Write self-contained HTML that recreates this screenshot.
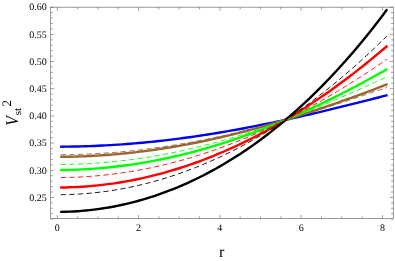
<!DOCTYPE html>
<html><head><meta charset="utf-8"><style>
html,body{margin:0;padding:0;background:#fff;}
svg{display:block;will-change:transform;opacity:0.999}
text{font-family:"Liberation Serif",serif;fill:#000;text-rendering:geometricPrecision}
</style></head><body>
<svg width="395" height="261" viewBox="0 0 395 261">
<rect width="395" height="261" fill="#fff"/>
<g>
<path d="M61.36 146.67 L65.43 146.64 L69.49 146.60 L73.56 146.53 L77.62 146.45 L81.68 146.35 L85.75 146.23 L89.81 146.09 L93.88 145.94 L97.94 145.76 L102.00 145.57 L106.07 145.36 L110.13 145.14 L114.20 144.89 L118.26 144.63 L122.32 144.35 L126.39 144.05 L130.45 143.73 L134.52 143.40 L138.58 143.05 L142.64 142.68 L146.71 142.29 L150.77 141.89 L154.84 141.47 L158.90 141.03 L162.96 140.58 L167.03 140.11 L171.09 139.62 L175.16 139.12 L179.22 138.60 L183.28 138.06 L187.35 137.51 L191.41 136.94 L195.48 136.36 L199.54 135.76 L203.60 135.15 L207.67 134.52 L211.73 133.87 L215.80 133.21 L219.86 132.54 L223.92 131.85 L227.99 131.15 L232.05 130.44 L236.12 129.71 L240.18 128.96 L244.24 128.21 L248.31 127.44 L252.37 126.65 L256.44 125.86 L260.50 125.05 L264.56 124.23 L268.63 123.40 L272.69 122.55 L276.76 121.70 L280.82 120.83 L284.88 119.96 L288.95 119.07 L293.01 118.17 L297.08 117.26 L301.14 116.35 L305.20 115.42 L309.27 114.48 L313.33 113.54 L317.40 112.58 L321.46 111.62 L325.52 110.65 L329.59 109.67 L333.65 108.69 L337.72 107.70 L341.78 106.70 L345.84 105.69 L349.91 104.68 L353.97 103.66 L358.04 102.64 L362.10 101.62 L366.16 100.59 L370.23 99.55 L374.29 98.51 L378.36 97.47 L382.42 96.42 L386.48 95.38" stroke="#0000f0" stroke-width="2.4" stroke-linecap="square" fill="none"/>
<path d="M61.36 156.81 L65.43 156.77 L69.49 156.71 L73.56 156.62 L77.62 156.51 L81.68 156.37 L85.75 156.21 L89.81 156.03 L93.88 155.82 L97.94 155.58 L102.00 155.32 L106.07 155.04 L110.13 154.73 L114.20 154.40 L118.26 154.04 L122.32 153.66 L126.39 153.25 L130.45 152.82 L134.52 152.37 L138.58 151.89 L142.64 151.39 L146.71 150.87 L150.77 150.32 L154.84 149.75 L158.90 149.15 L162.96 148.53 L167.03 147.89 L171.09 147.23 L175.16 146.54 L179.22 145.83 L183.28 145.10 L187.35 144.34 L191.41 143.57 L195.48 142.77 L199.54 141.95 L203.60 141.11 L207.67 140.24 L211.73 139.36 L215.80 138.45 L219.86 137.52 L223.92 136.58 L227.99 135.61 L232.05 134.62 L236.12 133.61 L240.18 132.58 L244.24 131.53 L248.31 130.47 L252.37 129.38 L256.44 128.27 L260.50 127.15 L264.56 126.01 L268.63 124.85 L272.69 123.67 L276.76 122.47 L280.82 121.26 L284.88 120.03 L288.95 118.78 L293.01 117.52 L297.08 116.24 L301.14 114.94 L305.20 113.63 L309.27 112.30 L313.33 110.96 L317.40 109.60 L321.46 108.23 L325.52 106.85 L329.59 105.45 L333.65 104.04 L337.72 102.61 L341.78 101.18 L345.84 99.73 L349.91 98.27 L353.97 96.79 L358.04 95.31 L362.10 93.81 L366.16 92.31 L370.23 90.79 L374.29 89.27 L378.36 87.73 L382.42 86.19 L386.48 84.64" stroke="#996633" stroke-width="2.4" stroke-linecap="square" fill="none"/>
<path d="M61.36 169.98 L65.43 169.93 L69.49 169.85 L73.56 169.73 L77.62 169.59 L81.68 169.41 L85.75 169.19 L89.81 168.95 L93.88 168.67 L97.94 168.35 L102.00 168.01 L106.07 167.63 L110.13 167.22 L114.20 166.78 L118.26 166.31 L122.32 165.80 L126.39 165.26 L130.45 164.69 L134.52 164.08 L138.58 163.45 L142.64 162.78 L146.71 162.08 L150.77 161.35 L154.84 160.58 L158.90 159.79 L162.96 158.96 L167.03 158.10 L171.09 157.21 L175.16 156.29 L179.22 155.34 L183.28 154.36 L187.35 153.34 L191.41 152.30 L195.48 151.22 L199.54 150.11 L203.60 148.98 L207.67 147.81 L211.73 146.61 L215.80 145.39 L219.86 144.13 L223.92 142.84 L227.99 141.53 L232.05 140.18 L236.12 138.81 L240.18 137.41 L244.24 135.98 L248.31 134.52 L252.37 133.03 L256.44 131.51 L260.50 129.97 L264.56 128.39 L268.63 126.79 L272.69 125.17 L276.76 123.51 L280.82 121.83 L284.88 120.12 L288.95 118.39 L293.01 116.63 L297.08 114.84 L301.14 113.03 L305.20 111.19 L309.27 109.33 L313.33 107.44 L317.40 105.53 L321.46 103.59 L325.52 101.63 L329.59 99.65 L333.65 97.64 L337.72 95.61 L341.78 93.55 L345.84 91.48 L349.91 89.38 L353.97 87.25 L358.04 85.11 L362.10 82.94 L366.16 80.75 L370.23 78.55 L374.29 76.32 L378.36 74.07 L382.42 71.80 L386.48 69.51" stroke="#00ff00" stroke-width="2.4" stroke-linecap="square" fill="none"/>
<path d="M61.36 187.49 L65.43 187.43 L69.49 187.32 L73.56 187.17 L77.62 186.98 L81.68 186.74 L85.75 186.46 L89.81 186.14 L93.88 185.78 L97.94 185.37 L102.00 184.92 L106.07 184.43 L110.13 183.90 L114.20 183.32 L118.26 182.70 L122.32 182.03 L126.39 181.33 L130.45 180.58 L134.52 179.78 L138.58 178.95 L142.64 178.07 L146.71 177.15 L150.77 176.19 L154.84 175.18 L158.90 174.13 L162.96 173.04 L167.03 171.90 L171.09 170.72 L175.16 169.50 L179.22 168.24 L183.28 166.93 L187.35 165.58 L191.41 164.19 L195.48 162.75 L199.54 161.27 L203.60 159.75 L207.67 158.19 L211.73 156.58 L215.80 154.93 L219.86 153.23 L223.92 151.50 L227.99 149.72 L232.05 147.89 L236.12 146.03 L240.18 144.12 L244.24 142.16 L248.31 140.17 L252.37 138.13 L256.44 136.05 L260.50 133.92 L264.56 131.75 L268.63 129.54 L272.69 127.29 L276.76 124.99 L280.82 122.65 L284.88 120.26 L288.95 117.83 L293.01 115.36 L297.08 112.85 L301.14 110.29 L305.20 107.69 L309.27 105.04 L313.33 102.35 L317.40 99.62 L321.46 96.85 L325.52 94.03 L329.59 91.17 L333.65 88.26 L337.72 85.31 L341.78 82.32 L345.84 79.28 L349.91 76.20 L353.97 73.08 L358.04 69.91 L362.10 66.70 L366.16 63.45 L370.23 60.15 L374.29 56.80 L378.36 53.42 L382.42 49.99 L386.48 46.52" stroke="#ff0000" stroke-width="2.4" stroke-linecap="square" fill="none"/>
<path d="M61.36 211.89 L65.43 211.81 L69.49 211.67 L73.56 211.47 L77.62 211.22 L81.68 210.92 L85.75 210.56 L89.81 210.14 L93.88 209.67 L97.94 209.14 L102.00 208.56 L106.07 207.91 L110.13 207.22 L114.20 206.47 L118.26 205.66 L122.32 204.79 L126.39 203.87 L130.45 202.89 L134.52 201.85 L138.58 200.75 L142.64 199.60 L146.71 198.39 L150.77 197.12 L154.84 195.80 L158.90 194.41 L162.96 192.97 L167.03 191.46 L171.09 189.90 L175.16 188.28 L179.22 186.59 L183.28 184.85 L187.35 183.05 L191.41 181.18 L195.48 179.26 L199.54 177.27 L203.60 175.22 L207.67 173.10 L211.73 170.93 L215.80 168.69 L219.86 166.39 L223.92 164.02 L227.99 161.59 L232.05 159.09 L236.12 156.53 L240.18 153.90 L244.24 151.20 L248.31 148.44 L252.37 145.61 L256.44 142.71 L260.50 139.74 L264.56 136.71 L268.63 133.60 L272.69 130.42 L276.76 127.18 L280.82 123.86 L284.88 120.47 L288.95 117.00 L293.01 113.47 L297.08 109.86 L301.14 106.17 L305.20 102.41 L309.27 98.57 L313.33 94.66 L317.40 90.67 L321.46 86.60 L325.52 82.45 L329.59 78.23 L333.65 73.92 L337.72 69.53 L341.78 65.06 L345.84 60.51 L349.91 55.88 L353.97 51.16 L358.04 46.36 L362.10 41.47 L366.16 36.49 L370.23 31.43 L374.29 26.28 L378.36 21.04 L382.42 15.71 L386.48 10.29" stroke="#000000" stroke-width="2.4" stroke-linecap="square" fill="none"/>
<path d="M61.36 154.69 L65.43 154.66 L69.49 154.60 L73.56 154.52 L77.62 154.41 L81.68 154.28 L85.75 154.13 L89.81 153.95 L93.88 153.75 L97.94 153.52 L102.00 153.28 L106.07 153.01 L110.13 152.71 L114.20 152.40 L118.26 152.06 L122.32 151.70 L126.39 151.31 L130.45 150.90 L134.52 150.47 L138.58 150.02 L142.64 149.54 L146.71 149.04 L150.77 148.52 L154.84 147.98 L158.90 147.41 L162.96 146.83 L167.03 146.22 L171.09 145.59 L175.16 144.94 L179.22 144.26 L183.28 143.57 L187.35 142.86 L191.41 142.12 L195.48 141.37 L199.54 140.59 L203.60 139.79 L207.67 138.98 L211.73 138.14 L215.80 137.29 L219.86 136.41 L223.92 135.52 L227.99 134.61 L232.05 133.68 L236.12 132.73 L240.18 131.76 L244.24 130.78 L248.31 129.78 L252.37 128.76 L256.44 127.72 L260.50 126.67 L264.56 125.60 L268.63 124.51 L272.69 123.41 L276.76 122.29 L280.82 121.16 L284.88 120.01 L288.95 118.85 L293.01 117.67 L297.08 116.48 L301.14 115.28 L305.20 114.06 L309.27 112.83 L313.33 111.59 L317.40 110.33 L321.46 109.07 L325.52 107.79 L329.59 106.50 L333.65 105.20 L337.72 103.89 L341.78 102.57 L345.84 101.24 L349.91 99.90 L353.97 98.55 L358.04 97.20 L362.10 95.84 L366.16 94.46 L370.23 93.09 L374.29 91.70 L378.36 90.31 L382.42 88.91 L386.48 87.51" stroke="#996633" stroke-width="0.9" stroke-linecap="square" stroke-dasharray="4.27 4.27" fill="none"/>
<path d="M61.36 164.50 L65.43 164.46 L69.49 164.39 L73.56 164.28 L77.62 164.15 L81.68 163.98 L85.75 163.79 L89.81 163.57 L93.88 163.31 L97.94 163.03 L102.00 162.72 L106.07 162.38 L110.13 162.01 L114.20 161.61 L118.26 161.18 L122.32 160.72 L126.39 160.23 L130.45 159.71 L134.52 159.17 L138.58 158.59 L142.64 157.99 L146.71 157.36 L150.77 156.70 L154.84 156.01 L158.90 155.29 L162.96 154.55 L167.03 153.77 L171.09 152.97 L175.16 152.14 L179.22 151.29 L183.28 150.41 L187.35 149.50 L191.41 148.56 L195.48 147.60 L199.54 146.60 L203.60 145.59 L207.67 144.55 L211.73 143.48 L215.80 142.38 L219.86 141.26 L223.92 140.12 L227.99 138.95 L232.05 137.75 L236.12 136.53 L240.18 135.29 L244.24 134.02 L248.31 132.73 L252.37 131.42 L256.44 130.08 L260.50 128.72 L264.56 127.33 L268.63 125.93 L272.69 124.50 L276.76 123.05 L280.82 121.57 L284.88 120.08 L288.95 118.57 L293.01 117.03 L297.08 115.48 L301.14 113.90 L305.20 112.31 L309.27 110.69 L313.33 109.06 L317.40 107.41 L321.46 105.74 L325.52 104.06 L329.59 102.35 L333.65 100.63 L337.72 98.89 L341.78 97.14 L345.84 95.37 L349.91 93.58 L353.97 91.78 L358.04 89.97 L362.10 88.14 L366.16 86.29 L370.23 84.44 L374.29 82.57 L378.36 80.68 L382.42 78.79 L386.48 76.88" stroke="#00ff00" stroke-width="0.9" stroke-linecap="square" stroke-dasharray="4.27 4.27" fill="none"/>
<path d="M61.36 177.57 L65.43 177.51 L69.49 177.42 L73.56 177.29 L77.62 177.12 L81.68 176.92 L85.75 176.68 L89.81 176.40 L93.88 176.08 L97.94 175.73 L102.00 175.34 L106.07 174.91 L110.13 174.45 L114.20 173.95 L118.26 173.41 L122.32 172.83 L126.39 172.22 L130.45 171.57 L134.52 170.89 L138.58 170.16 L142.64 169.41 L146.71 168.61 L150.77 167.78 L154.84 166.91 L158.90 166.00 L162.96 165.06 L167.03 164.08 L171.09 163.07 L175.16 162.01 L179.22 160.93 L183.28 159.80 L187.35 158.64 L191.41 157.45 L195.48 156.21 L199.54 154.95 L203.60 153.64 L207.67 152.30 L211.73 150.93 L215.80 149.52 L219.86 148.07 L223.92 146.59 L227.99 145.07 L232.05 143.52 L236.12 141.93 L240.18 140.31 L244.24 138.65 L248.31 136.96 L252.37 135.24 L256.44 133.47 L260.50 131.68 L264.56 129.85 L268.63 127.98 L272.69 126.08 L276.76 124.15 L280.82 122.18 L284.88 120.18 L288.95 118.15 L293.01 116.08 L297.08 113.98 L301.14 111.85 L305.20 109.68 L309.27 107.48 L313.33 105.24 L317.40 102.98 L321.46 100.68 L325.52 98.35 L329.59 95.98 L333.65 93.59 L337.72 91.16 L341.78 88.70 L345.84 86.21 L349.91 83.69 L353.97 81.13 L358.04 78.55 L362.10 75.93 L366.16 73.28 L370.23 70.60 L374.29 67.89 L378.36 65.15 L382.42 62.38 L386.48 59.58" stroke="#ff0000" stroke-width="0.9" stroke-linecap="square" stroke-dasharray="4.27 4.27" fill="none"/>
<path d="M61.36 194.70 L65.43 194.63 L69.49 194.52 L73.56 194.35 L77.62 194.14 L81.68 193.88 L85.75 193.58 L89.81 193.23 L93.88 192.83 L97.94 192.39 L102.00 191.90 L106.07 191.36 L110.13 190.77 L114.20 190.14 L118.26 189.46 L122.32 188.74 L126.39 187.97 L130.45 187.15 L134.52 186.28 L138.58 185.36 L142.64 184.40 L146.71 183.39 L150.77 182.34 L154.84 181.23 L158.90 180.08 L162.96 178.88 L167.03 177.63 L171.09 176.34 L175.16 175.00 L179.22 173.61 L183.28 172.17 L187.35 170.68 L191.41 169.15 L195.48 167.57 L199.54 165.94 L203.60 164.26 L207.67 162.53 L211.73 160.75 L215.80 158.93 L219.86 157.05 L223.92 155.13 L227.99 153.16 L232.05 151.13 L236.12 149.06 L240.18 146.94 L244.24 144.77 L248.31 142.55 L252.37 140.29 L256.44 137.97 L260.50 135.60 L264.56 133.18 L268.63 130.71 L272.69 128.19 L276.76 125.62 L280.82 122.99 L284.88 120.32 L288.95 117.60 L293.01 114.82 L297.08 111.99 L301.14 109.12 L305.20 106.19 L309.27 103.20 L313.33 100.17 L317.40 97.08 L321.46 93.94 L325.52 90.75 L329.59 87.51 L333.65 84.21 L337.72 80.86 L341.78 77.46 L345.84 74.00 L349.91 70.49 L353.97 66.92 L358.04 63.30 L362.10 59.63 L366.16 55.90 L370.23 52.12 L374.29 48.28 L378.36 44.38 L382.42 40.43 L386.48 36.43" stroke="#000000" stroke-width="0.9" stroke-linecap="square" stroke-dasharray="4.27 4.27" fill="none"/>
</g>
<rect x="50.5" y="7.19" width="342.8" height="211.41" fill="none" stroke="#666" stroke-width="0.64"/>
<path d="M50.5 219.19h2.2 M393.3 219.19h-2.2 M50.5 213.76h2.2 M393.3 213.76h-2.2 M50.5 208.32h2.2 M393.3 208.32h-2.2 M50.5 202.89h2.2 M393.3 202.89h-2.2 M50.5 197.45h3.6 M393.3 197.45h-3.6 M50.5 192.01h2.2 M393.3 192.01h-2.2 M50.5 186.58h2.2 M393.3 186.58h-2.2 M50.5 181.14h2.2 M393.3 181.14h-2.2 M50.5 175.71h2.2 M393.3 175.71h-2.2 M50.5 170.27h3.6 M393.3 170.27h-3.6 M50.5 164.83h2.2 M393.3 164.83h-2.2 M50.5 159.40h2.2 M393.3 159.40h-2.2 M50.5 153.96h2.2 M393.3 153.96h-2.2 M50.5 148.53h2.2 M393.3 148.53h-2.2 M50.5 143.09h3.6 M393.3 143.09h-3.6 M50.5 137.65h2.2 M393.3 137.65h-2.2 M50.5 132.22h2.2 M393.3 132.22h-2.2 M50.5 126.78h2.2 M393.3 126.78h-2.2 M50.5 121.35h2.2 M393.3 121.35h-2.2 M50.5 115.91h3.6 M393.3 115.91h-3.6 M50.5 110.47h2.2 M393.3 110.47h-2.2 M50.5 105.04h2.2 M393.3 105.04h-2.2 M50.5 99.60h2.2 M393.3 99.60h-2.2 M50.5 94.17h2.2 M393.3 94.17h-2.2 M50.5 88.73h3.6 M393.3 88.73h-3.6 M50.5 83.29h2.2 M393.3 83.29h-2.2 M50.5 77.86h2.2 M393.3 77.86h-2.2 M50.5 72.42h2.2 M393.3 72.42h-2.2 M50.5 66.99h2.2 M393.3 66.99h-2.2 M50.5 61.55h3.6 M393.3 61.55h-3.6 M50.5 56.11h2.2 M393.3 56.11h-2.2 M50.5 50.68h2.2 M393.3 50.68h-2.2 M50.5 45.24h2.2 M393.3 45.24h-2.2 M50.5 39.81h2.2 M393.3 39.81h-2.2 M50.5 34.37h3.6 M393.3 34.37h-3.6 M50.5 28.93h2.2 M393.3 28.93h-2.2 M50.5 23.50h2.2 M393.3 23.50h-2.2 M50.5 18.06h2.2 M393.3 18.06h-2.2 M50.5 12.63h2.2 M393.3 12.63h-2.2 M50.5 7.19h3.6 M393.3 7.19h-3.6 M57.30 218.6v-3.6 M57.30 7.19v3.6 M77.62 218.6v-2.2 M77.62 7.19v2.2 M97.94 218.6v-2.2 M97.94 7.19v2.2 M118.26 218.6v-2.2 M118.26 7.19v2.2 M138.58 218.6v-3.6 M138.58 7.19v3.6 M158.90 218.6v-2.2 M158.90 7.19v2.2 M179.22 218.6v-2.2 M179.22 7.19v2.2 M199.54 218.6v-2.2 M199.54 7.19v2.2 M219.86 218.6v-3.6 M219.86 7.19v3.6 M240.18 218.6v-2.2 M240.18 7.19v2.2 M260.50 218.6v-2.2 M260.50 7.19v2.2 M280.82 218.6v-2.2 M280.82 7.19v2.2 M301.14 218.6v-3.6 M301.14 7.19v3.6 M321.46 218.6v-2.2 M321.46 7.19v2.2 M341.78 218.6v-2.2 M341.78 7.19v2.2 M362.10 218.6v-2.2 M362.10 7.19v2.2 M382.42 218.6v-3.6 M382.42 7.19v3.6" stroke="#666" stroke-width="0.64" fill="none"/>
<g font-size="10">
<text x="46.8" y="200.75" text-anchor="end">0.25</text>
<text x="46.8" y="173.57" text-anchor="end">0.30</text>
<text x="46.8" y="146.39" text-anchor="end">0.35</text>
<text x="46.8" y="119.21" text-anchor="end">0.40</text>
<text x="46.8" y="92.03" text-anchor="end">0.45</text>
<text x="46.8" y="64.85" text-anchor="end">0.50</text>
<text x="46.8" y="37.67" text-anchor="end">0.55</text>
<text x="46.8" y="10.49" text-anchor="end">0.60</text>
<text x="57.30" y="230.7" text-anchor="middle">0</text>
<text x="138.58" y="230.7" text-anchor="middle">2</text>
<text x="219.86" y="230.7" text-anchor="middle">4</text>
<text x="301.14" y="230.7" text-anchor="middle">6</text>
<text x="382.42" y="230.7" text-anchor="middle">8</text>
</g>
<text x="219.0" y="256.7" font-size="16">r</text>
<g transform="translate(17.8,125.8) rotate(-90)">
<text transform="scale(0.87,1)" x="0" y="0" font-size="18" font-style="italic">V</text>
<text transform="translate(10.2,3.4) scale(1,0.88)" font-size="12">st</text>
<text x="19.2" y="-6.8" font-size="13">2</text>
</g>
</svg>
</body></html>
